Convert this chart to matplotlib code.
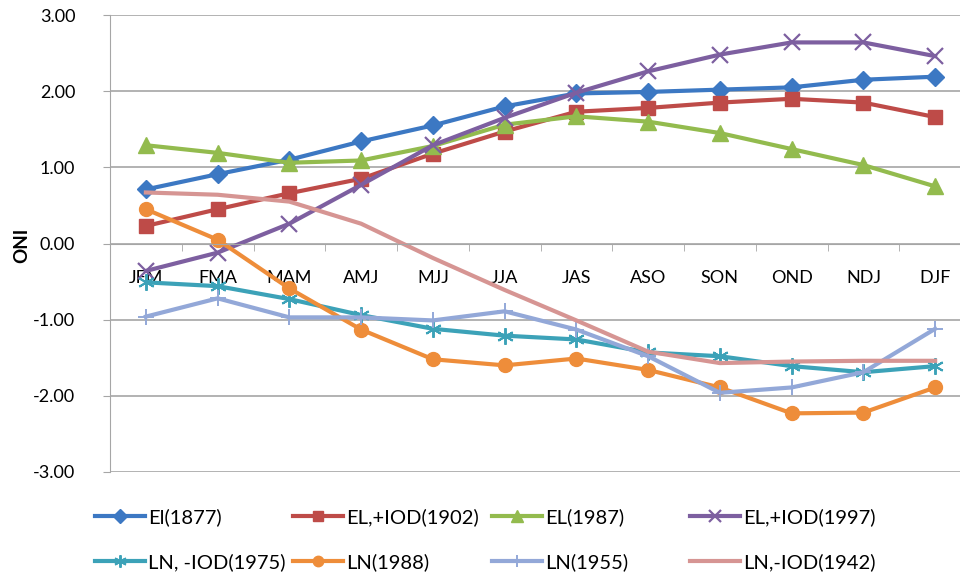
#ONI evolution for El Nino / La Nina years

#Importing_Libraries
import matplotlib
matplotlib.use('Agg')
import matplotlib.pyplot as plt
import numpy as np

plt.rcParams['font.family'] = ['Lato', 'DejaVu Sans']

#Data
seasons = ['JFM', 'FMA', 'MAM', 'AMJ', 'MJJ', 'JJA', 'JAS', 'ASO', 'SON', 'OND', 'NDJ', 'DJF']

el_1877 = [0.71, 0.91, 1.10, 1.34, 1.55, 1.80, 1.97, 1.99, 2.02, 2.05, 2.15, 2.19]
el_iod_1902 = [0.23, 0.45, 0.66, 0.85, 1.18, 1.47, 1.73, 1.78, 1.85, 1.90, 1.85, 1.66]
el_1987 = [1.29, 1.19, 1.06, 1.09, 1.28, 1.56, 1.67, 1.60, 1.45, 1.24, 1.03, 0.75]
el_iod_1997 = [-0.36, -0.12, 0.26, 0.77, 1.29, 1.65, 1.98, 2.26, 2.48, 2.64, 2.64, 2.46]
ln_iod_1975 = [-0.51, -0.56, -0.73, -0.94, -1.12, -1.21, -1.26, -1.43, -1.48, -1.61, -1.69, -1.61]
ln_1988 = [0.45, 0.05, -0.59, -1.13, -1.52, -1.60, -1.51, -1.66, -1.89, -2.23, -2.22, -1.89]
ln_1955 = [-0.96, -0.72, -0.97, -0.97, -1.01, -0.89, -1.13, -1.48, -1.96, -1.89, -1.69, -1.12]
ln_iod_1942 = [0.67, 0.64, 0.55, 0.26, -0.19, -0.61, -1.01, -1.42, -1.57, -1.55, -1.54, -1.54]

x = np.arange(len(seasons))

#Plotting
fig = plt.figure(figsize=(9.6, 5.74), dpi=100)
ax = fig.add_axes([110/960, 1 - 472/574, 861/960, 457/574])

lines = []
lines += ax.plot(x, el_1877, color='#3C78C3', lw=3, marker='D', ms=9, label='El(1877)')
lines += ax.plot(x, el_iod_1902, color='#BE4B48', lw=3, marker='s', ms=10, label='EL,+IOD(1902)')
lines += ax.plot(x, el_1987, color='#93BB4E', lw=3, marker='^', ms=11, label='EL(1987)')
lines += ax.plot(x, el_iod_1997, color='#7D5FA0', lw=3, marker='x', ms=11, mew=1.6, label='EL,+IOD(1997)')
lines += ax.plot(x, ln_iod_1975, color='#3CA2B8', lw=3, marker=(6, 2, 0), ms=12, mew=1.4, label='LN, -IOD(1975)')
lines += ax.plot(x, ln_1988, color='#EE8D3A', lw=3, marker='o', ms=10, label='LN(1988)')
lines += ax.plot(x, ln_1955, color='#93A8D8', lw=3, marker='+', ms=12, mew=1.4, label='LN(1955)')
lines += ax.plot(x, ln_iod_1942, color='#D69593', lw=3, label='LN,-IOD(1942)')

#Axes
ax.set_xlim(-0.5, len(seasons) - 0.5)
ax.set_ylim(-3, 3)
ax.set_yticks(np.arange(-3, 3.01, 1))
ax.set_yticklabels(['%.2f' % v for v in np.arange(-3, 3.01, 1)], fontsize=13)
ax.yaxis.grid(True, color='#A6A6A6', lw=1.2)
ax.set_axisbelow(True)

ax.spines['top'].set_visible(False)
ax.spines['right'].set_visible(False)
ax.spines['left'].set_color('#A6A6A6')
ax.spines['bottom'].set_color('#A6A6A6')
ax.spines['bottom'].set_position(('data', 0))

ax.set_xticks(x)
ax.set_xticklabels(seasons, fontsize=13)
ax.set_xticks(np.arange(-0.5, len(seasons), 1), minor=True)
ax.tick_params(axis='x', which='major', length=0, pad=19)
ax.tick_params(axis='x', which='minor', length=5, color='#A6A6A6', direction='out')
ax.tick_params(axis='y', length=5, color='#A6A6A6', pad=20)

fig.text(22/960, 1 - 245/574, 'ONI', rotation=90, fontsize=13.5, fontweight='bold',
         ha='center', va='center')

#Legend: two rows, four columns, one small legend per column
col_x = [95, 293, 492, 690]
for j, cx in enumerate(col_x):
    pair = [lines[j], lines[j + 4]]
    leg = fig.legend(pair, [l.get_label() for l in pair], loc='upper left',
                     bbox_to_anchor=(cx/960, 1 - 508/574), bbox_transform=fig.transFigure,
                     frameon=False, fontsize=14.5, handlelength=2.5, handletextpad=0.15,
                     labelspacing=1.35, borderpad=0, borderaxespad=0, markerscale=0.75)

plt.savefig('out.png', dpi=100)
